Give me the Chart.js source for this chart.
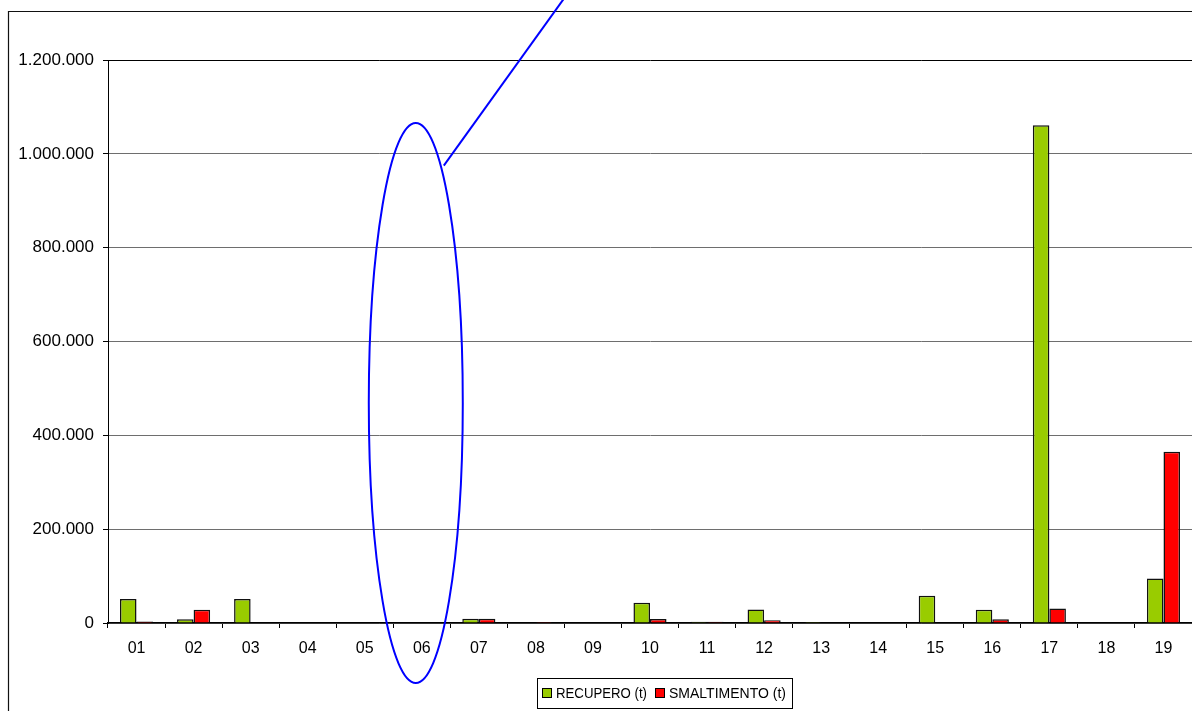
<!DOCTYPE html>
<html>
<head>
<meta charset="utf-8">
<script src="https://cdn.jsdelivr.net/npm/chart.js@4.4.1/dist/chart.umd.min.js"></script>
<style>
  html, body { margin: 0; padding: 0; background: #fff; }
  #wrap { width: 1192px; height: 711px; position: relative; }
</style>
</head>
<body>
<div id="wrap"><canvas id="c" width="1192" height="711"></canvas></div>
<script>
const categories = ['01','02','03','04','05','06','07','08','09','10','11','12','13','14','15','16','17','18','19'];
const recupero = [51000, 8000, 51000, 0, 0, 0, 9000, 0, 0, 43000, 2500, 29000, 2000, 0, 58000, 28000, 1061000, 0, 95000];
const smaltimento = [3000, 28000, 0, 0, 0, 0, 9000, 2000, 0, 8500, 2500, 6000, 0, 0, 0, 8000, 31000, 0, 365000];
const seriesLabels = ['RECUPERO (t)', 'SMALTIMENTO (t)'];
const seriesColors = ['#99cc00', '#ff0000'];
const yMax = 1200000;
const yStep = 200000;

function fmt(v) {
  return String(Math.round(v)).replace(/\B(?=(\d{3})+(?!\d))/g, '.');
}

const frame = {
  id: 'frame',
  beforeDraw(chart) {
    const c = chart.ctx;
    c.save();
    c.fillStyle = '#fff';
    c.fillRect(0, 0, chart.width, chart.height);
    c.restore();
  },
  afterDraw(chart) {
    const c = chart.ctx;
    const xs = chart.scales.x, ys = chart.scales.y;
    c.save();
    // outer frame
    c.strokeStyle = '#111';
    c.lineWidth = 1.2;
    c.beginPath();
    c.moveTo(8.5, chart.height + 2);
    c.lineTo(8.5, 11.5);
    c.lineTo(chart.width + 2, 11.5);
    c.stroke();

    // annotation ellipse around category 06
    const cx = xs.getPixelForValue(5) - 6;
    const cy = ys.getPixelForValue(469000);
    c.strokeStyle = '#0000ff';
    c.lineWidth = 2;
    c.beginPath();
    c.ellipse(cx, cy, 47, 280, 0, 0, Math.PI * 2);
    c.stroke();
    c.beginPath();
    c.moveTo(cx + 28, ys.getPixelForValue(975000));
    c.lineTo(cx + 150, -4);
    c.stroke();

    // legend
    const lx = 537.5, ly = 678.5, lw = 255, lh = 30;
    c.fillStyle = '#fff';
    c.fillRect(lx, ly, lw, lh);
    c.strokeStyle = '#000';
    c.lineWidth = 1;
    c.strokeRect(lx, ly, lw, lh);
    c.font = '14px "Liberation Sans", Arial, sans-serif';
    c.textBaseline = 'middle';
    c.textAlign = 'left';
    const items = [
      { sx: 542, tx: 556, tw: 91 },
      { sx: 655, tx: 669, tw: 117 }
    ];
    chart.data.datasets.forEach((ds, i) => {
      const it = items[i];
      c.fillStyle = ds.backgroundColor;
      c.fillRect(it.sx + 0.5, 688.5, 9, 9);
      c.strokeStyle = '#000';
      c.strokeRect(it.sx + 0.5, 688.5, 9, 9);
      c.fillStyle = '#000';
      c.fillText(ds.label, it.tx, 694, it.tw);
    });
    c.restore();
  }
};

new Chart(document.getElementById('c'), {
  type: 'bar',
  data: {
    labels: categories,
    datasets: [
      { label: seriesLabels[0], data: recupero, backgroundColor: seriesColors[0], borderColor: '#111', borderWidth: 1.5, categoryPercentage: 0.58, barPercentage: 1 },
      { label: seriesLabels[1], data: smaltimento, backgroundColor: seriesColors[1], borderColor: '#111', borderWidth: 1.5, categoryPercentage: 0.58, barPercentage: 1 }
    ]
  },
  options: {
    responsive: false,
    animation: false,
    layout: { padding: { left: 8, right: 0, top: 60, bottom: 0 } },
    plugins: { legend: { display: false }, tooltip: { enabled: false } },
    scales: {
      x: {
        offset: true,
        grid: { offset: true, drawOnChartArea: false, drawTicks: true, tickLength: 5, tickColor: '#000', lineWidth: 1 },
        border: { display: true, color: '#000', width: 1.5 },
        ticks: { color: '#000', padding: 11, font: { family: '"Liberation Sans", Arial, sans-serif', size: 16 }, maxRotation: 0, autoSkip: false },
        afterFit(scale) { scale.height = 88; }
      },
      y: {
        min: 0, max: yMax,
        grid: {
          color: (ctx) => (ctx.tick && ctx.tick.value === yMax) ? '#000' : '#6e6e6e',
          tickColor: '#000', tickLength: 5, lineWidth: 1
        },
        border: { display: true, color: '#000', width: 1 },
        ticks: { stepSize: yStep, color: '#000', padding: 9, font: { family: '"Liberation Sans", Arial, sans-serif', size: 17 }, callback: (v) => fmt(v) },
        afterFit(scale) { scale.width = 100; }
      }
    }
  },
  plugins: [frame]
});
</script>
</body>
</html>
